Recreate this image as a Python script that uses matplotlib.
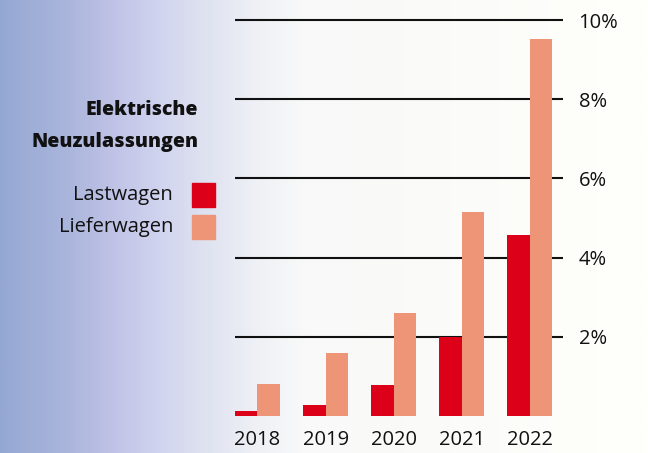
import numpy as np
import matplotlib.pyplot as plt
from matplotlib.colors import LinearSegmentedColormap
from matplotlib.patches import Rectangle

years = ['2018', '2019', '2020', '2021', '2022']
lastwagen = [0.12, 0.27, 0.78, 2.0, 4.58]
lieferwagen = [0.8, 1.6, 2.6, 5.14, 9.52]
yticks = [2, 4, 6, 8, 10]
ytick_labels = ['2%', '4%', '6%', '8%', '10%']

red = '#DC0019'
salmon = '#EE9477'

plt.rcParams['font.family'] = ['Open Sans', 'DejaVu Sans']

fig = plt.figure(figsize=(6.48, 4.53), dpi=100)

# background gradient, blue on the left fading to off-white
bg = fig.add_axes([0, 0, 1, 1], zorder=-10)
bg_cmap = LinearSegmentedColormap.from_list('bg', [
    (0.0, '#95A8D3'), (0.10, '#AAB5DC'), (0.16, '#BCC0E4'), (0.24, '#D0D3EE'),
    (0.31, '#DDE1F0'), (0.39, '#EEF0F5'), (0.47, '#F8F9F8'), (1.0, '#FFFFFB')])
bg.imshow(np.linspace(0, 1, 400).reshape(1, -1), aspect='auto', cmap=bg_cmap,
          extent=[0, 1, 0, 1])
bg.axis('off')

ax = fig.add_axes([235 / 648, 1 - 416 / 453, (563.3 - 235) / 648, (416 - 12) / 453])
ax.patch.set_alpha(0)

x = np.arange(len(years))
w = 0.33
ax.bar(x - w / 2, lastwagen, w, color=red, zorder=3)
ax.bar(x + w / 2, lieferwagen, w, color=salmon, zorder=3)

for v in yticks:
    ax.axhline(v, color='#111111', lw=1.5, zorder=2)

ax.set_xlim(-w, 4.49)
ax.set_ylim(0, (416 - 12) / 39.6)
for s in ax.spines.values():
    s.set_visible(False)

ax.yaxis.tick_right()
ax.set_yticks(yticks)
ax.set_yticklabels(ytick_labels)
ax.tick_params(axis='y', length=0, pad=11, labelsize=14.5, labelcolor='#111111')
ax.set_xticks(x)
ax.set_xticklabels(years)
ax.tick_params(axis='x', length=0, pad=10, labelsize=14.5, labelcolor='#111111')

# title and legend on the left
fig.text(198 / 648, 1 - 115 / 453, 'Elektrische', ha='right', va='baseline',
         fontsize=14, fontweight='heavy', color='#111111')
fig.text(198 / 648, 1 - 147 / 453, 'Neuzulassungen', ha='right', va='baseline',
         fontsize=14, fontweight='heavy', color='#111111')

for label, col, yc in [('Lastwagen', red, 195), ('Lieferwagen', salmon, 227)]:
    fig.text(173 / 648, 1 - yc / 453, label, ha='right', va='center',
             fontsize=14.5, color='#111111')
    fig.patches.append(Rectangle((192 / 648, 1 - (yc + 11.5) / 453), 23 / 648, 23 / 453,
                                 transform=fig.transFigure, color=col))

fig.savefig('out.png', dpi=100)
